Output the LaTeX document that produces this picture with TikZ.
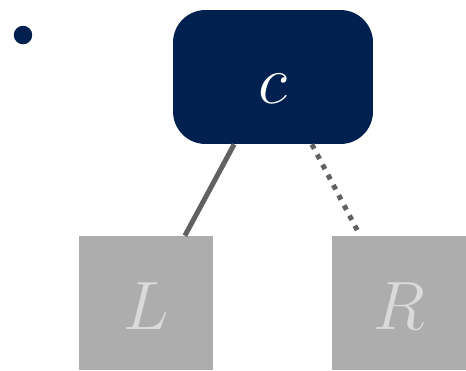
\documentclass[tikz,border=0pt]{standalone}
\usepackage{fix-cm}
\definecolor{navy}{HTML}{00214F}
\definecolor{linegray}{HTML}{616161}
\definecolor{boxgray}{HTML}{ADADAD}
\definecolor{lettergray}{HTML}{DADADA}
\begin{document}
\begin{tikzpicture}[x=0.02cm, y=-0.02cm, every node/.style={font=\fontsize{39}{40}\selectfont, inner sep=0pt, text height=1.06cm, text depth=0pt},
  rootbox/.style={fill=navy, text=white, rounded corners=0.65cm, minimum width=4cm, minimum height=2.68cm},
  leafbox/.style={fill=boxgray, text=lettergray, minimum size=2.68cm},
  edge/.style={draw=linegray, line width=0.1cm}]
  \useasboundingbox (0,0) rectangle (466,370);
  \node[circle, fill=navy, minimum size=0.37cm, text height=0pt] (dot) at (23,35) {};
  \node[rootbox] (c) at (273,77) {$c$};
  \node[leafbox] (L) at (146,303) {$L$};
  \node[leafbox] (R) at (399,303) {$R$};
  \draw[edge] (c.240) -- (L.60);
  \draw[edge, dash pattern=on 0.1cm off 0.13cm] (c.300) -- (R.120);
\end{tikzpicture}
\end{document}
